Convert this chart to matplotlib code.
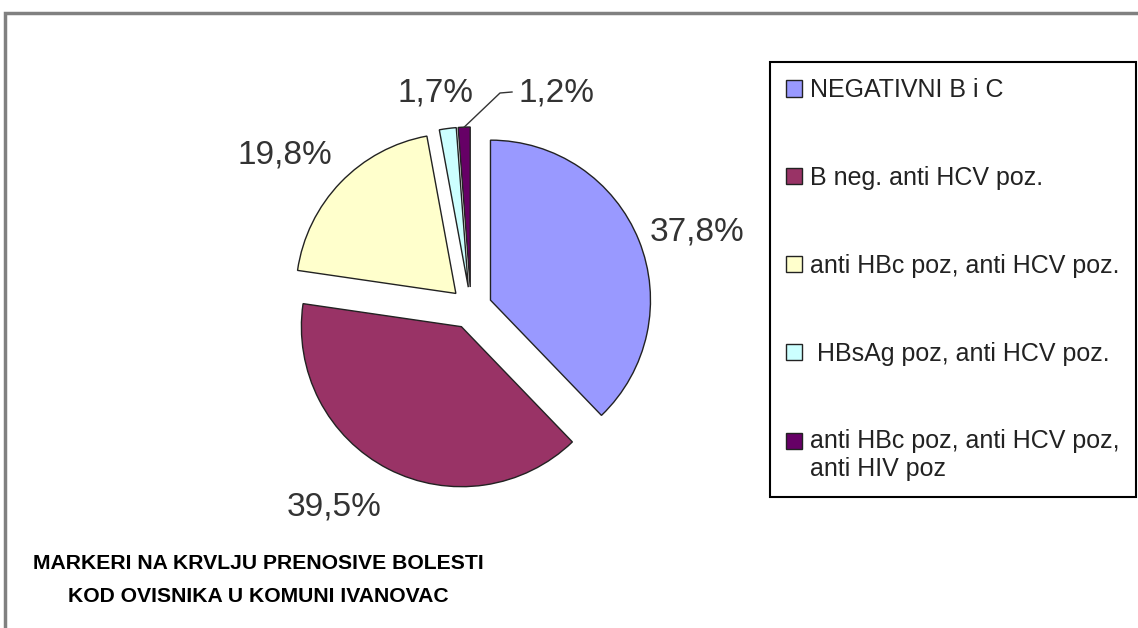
import numpy as np
import matplotlib.pyplot as plt
from matplotlib.patches import Rectangle
from matplotlib.legend_handler import HandlerPatch

# data
categories = ['NEGATIVNI B i C', 'B neg. anti HCV poz.', 'anti HBc poz, anti HCV poz.',
              ' HBsAg poz, anti HCV poz.', 'anti HBc poz, anti HCV poz,\nanti HIV poz']
values = [37.8, 39.5, 19.8, 1.7, 1.2]
pct_labels = ['37,8%', '39,5%', '19,8%', '1,7%', '1,2%']
colors = ['#9999FF', '#993366', '#FFFFCC', '#CCFFFF', '#660066']
title = 'MARKERI NA KRVLJU PRENOSIVE BOLESTI\nKOD OVISNIKA U KOMUNI IVANOVAC'

W, H = 1138, 628

def Y(y):
    # image pixel row -> data y
    return H - y

fig = plt.figure(figsize=(W / 100, H / 100), dpi=100)
ax = fig.add_axes([0, 0, 1, 1])

cx, cy, r = 471, 308, 160
wedges, _ = ax.pie(values, colors=colors, startangle=90, counterclock=False,
                   center=(cx, Y(cy)), radius=r, explode=[21] * len(values),
                   wedgeprops=dict(edgecolor='#222222', linewidth=1.0))

ax.set_xlim(0, W)
ax.set_ylim(0, H)
ax.set_aspect('equal')
ax.axis('off')

# percentage labels (image pixel positions)
label_pos = [(697, 232), (334, 507), (285, 155), (436, 93), (557, 93)]
for (x, y), t in zip(label_pos, pct_labels):
    ax.text(x, Y(y), t, fontsize=24, family='Liberation Sans', color='#333333',
            ha='center', va='center')

# leader line for the smallest slice
w = wedges[-1]
tm = np.deg2rad((w.theta1 + w.theta2) / 2)
tip = (w.center[0] + w.r * np.cos(tm), w.center[1] + w.r * np.sin(tm))
ax.plot([tip[0], 500, 512], [tip[1], Y(93), Y(92)], color='#333333', lw=1)

# title
ax.text(258, Y(580), title, fontsize=15.2, fontweight='bold', family='Liberation Sans',
        ha='center', va='center', linespacing=1.95)

# outer frame (only left and top edges visible)
ax.plot([5, 5, W + 5], [-5, Y(13), Y(13)], color='#808080', lw=2.5, solid_joinstyle='miter')


# square for the two-line entry sits next to its first line
def top_square(legend, orig_handle, xdescent, ydescent, width, height, fontsize):
    return Rectangle((-xdescent, -ydescent + 0.6 * fontsize), width, height)


leg = ax.legend(wedges, categories, loc='upper left',
                bbox_to_anchor=(770 / W, 1 - 62 / H), bbox_transform=fig.transFigure,
                prop=dict(family='Liberation Sans', size=18),
                frameon=True, fancybox=False, edgecolor='black', framealpha=1,
                handlelength=0.62, handleheight=0.62, handletextpad=0.35,
                labelspacing=2.55, borderpad=0.65, borderaxespad=0,
                handler_map={wedges[-1]: HandlerPatch(patch_func=top_square)})
leg.get_frame().set_linewidth(1.5)
for t in leg.get_texts():
    t.set_color('#222222')

fig.savefig('out.png', dpi=100)
